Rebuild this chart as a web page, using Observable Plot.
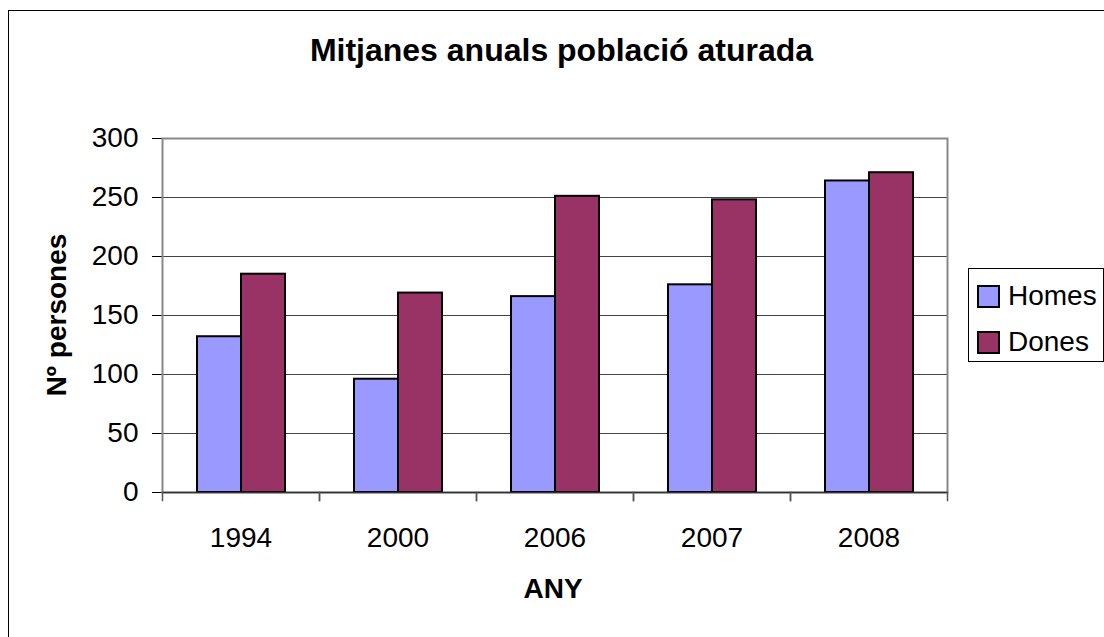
<!DOCTYPE html>
<html>
<head>
<meta charset="utf-8">
<script src="https://cdn.jsdelivr.net/npm/d3@7"></script>
<script src="https://cdn.jsdelivr.net/npm/@observablehq/plot@0.6"></script>
<style>
  html, body { margin: 0; padding: 0; background: #fff; }
  #wrap { position: relative; width: 1104px; height: 637px; overflow: hidden; font-family: "Liberation Sans", Arial, sans-serif; color: #000; }
  #border { position: absolute; left: 8px; top: 10px; width: 1120px; height: 660px; border: 1px solid #000; }
  #chart { position: absolute; left: 0; top: 0; }
  #title { position: absolute; left: 0; width: 1123px; top: 30px; text-align: center; font-weight: bold; font-size: 32px; line-height: 40px; }
  #ylabel { position: absolute; left: 57px; top: 315px; transform: translate(-50%, -50%) rotate(-90deg); font-weight: bold; font-size: 28px; white-space: nowrap; line-height: 32px; }
  #xlabel { position: absolute; left: 553px; top: 573px; transform: translateX(-50%); font-weight: bold; font-size: 28px; line-height: 32px; }
  #legend { position: absolute; left: 968px; top: 268px; width: 136px; height: 94px; border: 1px solid #000; box-sizing: border-box; background: #fff; }
  .item { position: absolute; left: 8px; display: flex; align-items: center; font-size: 28px; line-height: 32px; }
  .sw { width: 19px; height: 19px; border: 2px solid #000; margin-right: 8px; }
</style>
</head>
<body>
<div id="wrap">
  <div id="border"></div>
  <div id="chart"></div>
  <div id="title">Mitjanes anuals població aturada</div>
  <div id="ylabel">Nº persones</div>
  <div id="xlabel">ANY</div>
  <div id="legend"></div>
</div>
<script>
const years = ["1994", "2000", "2006", "2007", "2008"];
const series = ["Homes", "Dones"];
const homes = [132, 96, 166, 176, 264];
const dones = [185, 169, 251, 248, 271];
const colors = ["#9999FF", "#993366"];
const yTicks = [0, 50, 100, 150, 200, 250, 300];

const data = years.flatMap((yr, i) => [
  {year: yr, serie: series[0], value: homes[i]},
  {year: yr, serie: series[1], value: dones[i]}
]);

const legend = document.getElementById("legend");
series.forEach((s, i) => {
  const it = document.createElement("div");
  it.className = "item";
  it.style.top = (i === 0 ? 11 : 57) + "px";
  const sw = document.createElement("div");
  sw.className = "sw";
  sw.style.background = colors[i];
  const tx = document.createElement("span");
  tx.textContent = s;
  it.appendChild(sw);
  it.appendChild(tx);
  legend.appendChild(it);
});

const chart = Plot.plot({
  width: 1104,
  height: 637,
  marginLeft: 161,
  marginRight: 157,
  marginTop: 138,
  marginBottom: 145,
  style: {fontFamily: "'Liberation Sans', Arial, sans-serif", fontSize: "28px", color: "#000", background: "transparent", overflow: "visible"},
  fx: {domain: years, paddingInner: 0, paddingOuter: 0, label: null, tickSize: 0, tickPadding: 35},
  x: {domain: series, paddingInner: 0, paddingOuter: 0.75, axis: null},
  y: {domain: [0, 300], ticks: yTicks, tickSize: 10, tickPadding: 14, label: null, line: true},
  color: {domain: series, range: colors},
  marks: [
    Plot.gridY(yTicks.slice(1), {stroke: "#444", strokeOpacity: 1, strokeWidth: 1}),
    Plot.frame({facet: "super", stroke: "#888", strokeWidth: 2}),
    Plot.barY(data, {fx: "year", x: "serie", y: "value", fill: "serie", stroke: "#000", strokeWidth: 2}),
    Plot.ruleY([0], {stroke: "#333", strokeWidth: 1.5}),
    Plot.frame({anchor: "right", stroke: "#555", strokeWidth: 1.5, insetTop: 354, insetBottom: -8}),
    Plot.frame({anchor: "left", stroke: "#555", strokeWidth: 1.5, insetTop: 354, insetBottom: -8})
  ]
});
document.getElementById("chart").appendChild(chart);
</script>
</body>
</html>
